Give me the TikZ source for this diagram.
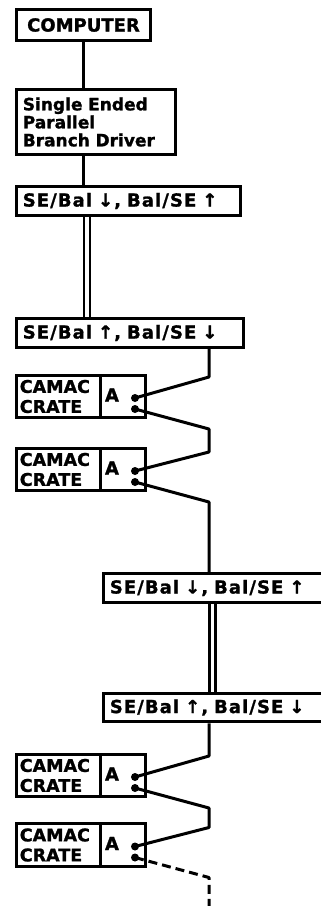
\documentclass[tikz,border=0pt]{standalone}
\usepackage{fontspec}
\newfontfamily\labfont{DejaVu Sans}[BoldFeatures={FakeBold=1.2}]
\newfontfamily\busfont{DejaVu Sans}[LetterSpace=6,BoldFeatures={FakeBold=1.2}]
\begin{document}
\begin{tikzpicture}[x=1pt,y=-1pt,
  box/.style={draw, line width=3pt, inner sep=0pt, align=left},
  unit/.style={box, font=\labfont\bfseries\fontsize{18}{18}\selectfont},
  driver/.style={box, font=\labfont\bfseries\fontsize{17}{18}\selectfont},
  conv/.style={box, minimum height=28.5pt, inner xsep=6.5pt,
    font=\busfont\bfseries\fontsize{18}{18}\selectfont},
  crate/.style={box, minimum height=42.4pt, inner xsep=3.5pt,
    font=\labfont\bfseries\fontsize{17.5}{20}\selectfont},
  addr/.style={box, minimum height=42.4pt, inner xsep=5pt,
    font=\labfont\bfseries\fontsize{18}{20}\selectfont},
  port/.style={circle, fill, inner sep=0pt, minimum size=8pt},
  wire/.style={line width=3pt, line join=round},
  bus/.style={double, double distance=3.4pt, line width=2.6pt},
  tailwire/.style={wire, dash pattern=on 9pt off 5pt}]

\clip (0,0) rectangle (321,906);
\fill[white] (0,0) rectangle (321,906);

% computer and branch driver
\node[unit, minimum width=134.4pt, minimum height=31.4pt] (comp) at (83.5,25) {COMPUTER};
\node[driver, text width=146.4pt, minimum height=65.4pt, inner xsep=6.5pt] (drv) at (96,122)
  {Single Ended\\Parallel\\Branch Driver};

% single-ended / balanced converters
\node[conv, text width=211.4pt] (conv1) at (128.5,201) {SE/Bal ↓, Bal/SE ↑};
\node[conv, text width=214.4pt] (conv2) at (130,333) {SE/Bal ↑, Bal/SE ↓};
\node[conv, text width=228.7pt] (conv3) at (224.2,588) {SE/Bal ↓, Bal/SE ↑};
\node[conv, text width=228.7pt] (conv4) at (224.2,707.5) {SE/Bal ↑, Bal/SE ↓};

% CAMAC crates with their A modules
\foreach \n/\cy in {1/396.5, 2/469.5, 3/775.5, 4/845} {
  \node[crate, text width=76.7pt] (c\n) at (58.15,\cy) {CAMAC\\CRATE};
  \node[addr, text width=35.7pt] (c\n a) at (122.85,\cy) {\raisebox{3pt}{A}};
  \node[port] (c\n in) at (135,\cy+1.5) {};
  \node[port] (c\n out) at (135,\cy+12.5) {};
}

\coordinate (trunk) at (83.5,0);
\coordinate (busA) at (87,0);
\coordinate (busB) at (212.5,0);
\coordinate (drop) at (209,0);
\coordinate (tail) at (209,910);

% upper branch
\draw[wire] (comp.south) -- (trunk |- drv.north);
\draw[wire] (trunk |- drv.south) -- (trunk |- conv1.north);
\draw[bus] (busA |- conv1.south) -- (busA |- conv2.north);
\draw[wire] (drop |- conv2.south) -- ([shift={(74,-21)}]c1in.center) -- (c1in.center);
\draw[wire] (c1out.center) -- ++(74,20) -- ([shift={(74,-19)}]c2in.center) -- (c2in.center);
\draw[wire] (c2out.center) -- ++(74,20) -- (drop |- conv3.north);

% lower branch
\draw[bus] (busB |- conv3.south) -- (busB |- conv4.north);
\draw[wire] (drop |- conv4.south) -- ([shift={(74,-21)}]c3in.center) -- (c3in.center);
\draw[wire] (c3out.center) -- ++(74,20) -- ([shift={(74,-19)}]c4in.center) -- (c4in.center);
\draw[tailwire] (c4out.center) -- ++(74,20) -- (tail);
\end{tikzpicture}
\end{document}
